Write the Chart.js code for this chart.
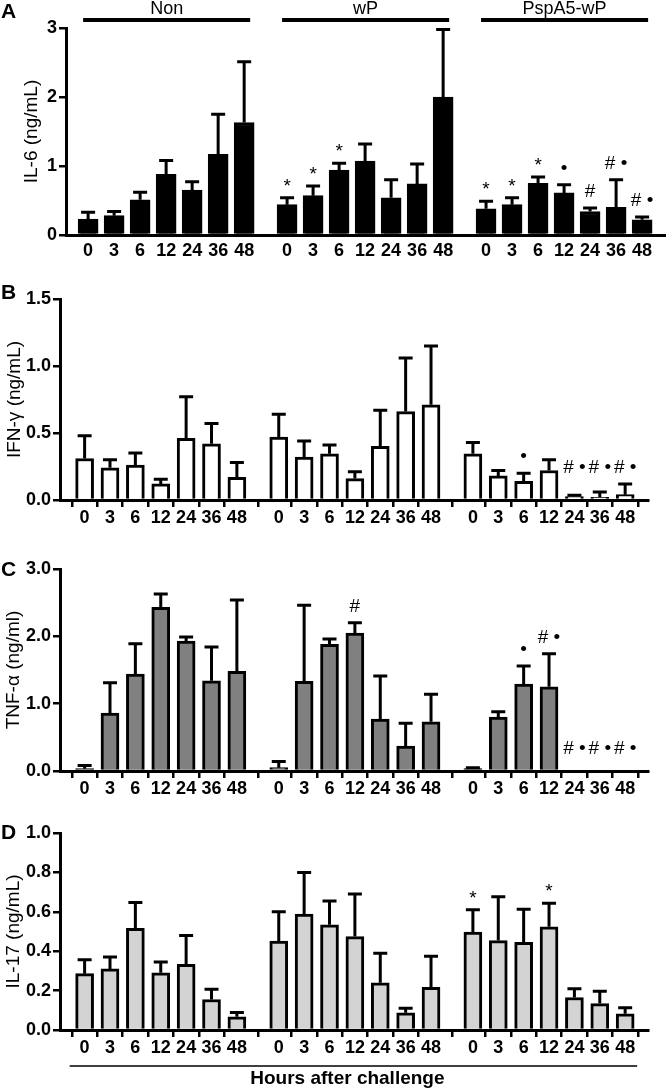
<!DOCTYPE html>
<html>
<head>
<meta charset="utf-8">
<script src="https://cdn.jsdelivr.net/npm/chart.js@4.4.1/dist/chart.umd.min.js"></script>
<style>
  body { margin: 0; background: #fff; }
  #wrap { position: relative; width: 666px; height: 1090px; }
  canvas { position: absolute; left: 0; }
</style>
</head>
<body>
<div id="wrap">
  <canvas id="panelA" width="666" height="262" style="top:0px"></canvas>
  <canvas id="panelB" width="666" height="265" style="top:262px"></canvas>
  <canvas id="panelC" width="666" height="271" style="top:527px"></canvas>
  <canvas id="panelD" width="666" height="292" style="top:798px"></canvas>
</div>
<script>
// time points (hours after challenge) and groups
const hours = ['0', '3', '6', '12', '24', '36', '48'];
const groupNames = ['Non', 'wP', 'PspA5-wP'];

// IL-6 (ng/mL), Non | wP | PspA5-wP
const il6Mean = [0.23, 0.28, 0.51, 0.88, 0.65, 1.17, 1.63,  0.44, 0.57, 0.94, 1.07, 0.54, 0.74, 2.00,  0.38, 0.44, 0.75, 0.61, 0.34, 0.40, 0.22];
const il6Err  = [0.10, 0.06, 0.11, 0.20, 0.12, 0.58, 0.88,  0.10, 0.14, 0.10, 0.25, 0.26, 0.29, 0.98,  0.11, 0.10, 0.09, 0.12, 0.05, 0.40, 0.04];
const il6Marks = ['', '', '', '', '', '', '',  '*', '*', '*', '', '', '', '',  '*', '*', '*', '•', '#', '# •', '# •'];

// IFN-gamma (ng/mL)
const ifnMean = [0.31, 0.24, 0.26, 0.12, 0.46, 0.42, 0.17,  0.47, 0.32, 0.345, 0.16, 0.40, 0.66, 0.71,  0.345, 0.18, 0.14, 0.22, 0.025, 0.02, 0.04];
const ifnErr  = [0.17, 0.06, 0.09, 0.035, 0.31, 0.15, 0.11,  0.17, 0.12, 0.065, 0.05, 0.27, 0.40, 0.44,  0.085, 0.04, 0.06, 0.08, 0.01, 0.04, 0.08];
const ifnMarks = ['', '', '', '', '', '', '',  '', '', '', '', '', '', '',  '', '', '•', '', '# •', '# •', '# •'];

// TNF-alpha (ng/ml)
const tnfMean = [0.035, 0.86, 1.44, 2.43, 1.93, 1.34, 1.48,  0.05, 1.33, 1.88, 2.05, 0.77, 0.37, 0.73,  0.035, 0.80, 1.29, 1.25, 0, 0, 0];
const tnfErr  = [0.045, 0.45, 0.45, 0.20, 0.06, 0.50, 1.06,  0.09, 1.13, 0.08, 0.15, 0.64, 0.34, 0.41,  0.015, 0.08, 0.27, 0.49, 0, 0, 0];
const tnfMarks = ['', '', '', '', '', '', '',  '', '', '', '#', '', '', '',  '', '', '•', '# •', '# •', '# •', '# •'];

// IL-17 (ng/mL)
const il17Mean = [0.286, 0.31, 0.516, 0.29, 0.333, 0.155, 0.067,  0.452, 0.588, 0.534, 0.474, 0.24, 0.087, 0.217,  0.497, 0.454, 0.445, 0.524, 0.165, 0.134, 0.082];
const il17Err  = [0.07, 0.06, 0.131, 0.055, 0.147, 0.052, 0.022,  0.148, 0.212, 0.121, 0.216, 0.15, 0.023, 0.158,  0.113, 0.223, 0.168, 0.12, 0.045, 0.063, 0.031];
const il17Marks = ['', '', '', '', '', '', '',  '', '', '', '', '', '', '',  '*', '', '', '*', '', '', ''];

// x positions: 7 bars per group with a narrower gap between groups
const GAP = 0.65;
const xPos = [];
const xLabels = [];
groupNames.forEach((g, gi) => {
  hours.forEach((h, i) => {
    xPos.push(gi * (7 + GAP) + i);
    xLabels.push(h);
  });
});

const FONT = "'Liberation Sans', Arial, sans-serif";
Chart.defaults.font.family = FONT;
Chart.defaults.color = '#000';

// error bars, significance marks, panel letters, headers
const extras = {
  id: 'extras',
  afterDatasetsDraw(chart, args, o) {
    const ctx = chart.ctx;
    const ys = chart.scales.y;
    const meta = chart.getDatasetMeta(0);
    const mean = o.mean;
    ctx.save();
    ctx.strokeStyle = '#000';
    ctx.lineWidth = 3;
    o.err.forEach((e, i) => {
      if (!e) return;
      const x = meta.data[i].x;
      const y0 = ys.getPixelForValue(mean[i]);
      const y1 = ys.getPixelForValue(mean[i] + e);
      ctx.beginPath();
      ctx.moveTo(x, y0);
      ctx.lineTo(x, y1);
      ctx.moveTo(x - 7, y1);
      ctx.lineTo(x + 7, y1);
      ctx.stroke();
    });

    ctx.fillStyle = '#000';
    ctx.font = '19px ' + FONT;
    ctx.textAlign = 'center';
    ctx.textBaseline = 'middle';
    const zero = ys.getPixelForValue(0);
    o.marks.forEach((m, i) => {
      if (!m) return;
      const x = meta.data[i].x;
      let y = ys.getPixelForValue(mean[i] + o.err[i]) - 16;
      y = Math.min(y, zero - o.floor);
      ctx.fillText(m, x, m === '*' ? y + 5 : y);
    });

    ctx.font = 'bold 21px ' + FONT;
    ctx.textAlign = 'left';
    ctx.fillText(o.letter, 1, o.letterY);

    if (o.headers) {
      groupNames.forEach((g, gi) => {
        const x0 = meta.data[gi * 7].x - 5;
        const x1 = meta.data[gi * 7 + 6].x + 6;
        ctx.lineWidth = 4;
        ctx.beginPath();
        ctx.moveTo(x0, 20);
        ctx.lineTo(x1, 20);
        ctx.stroke();
        ctx.font = '18px ' + FONT;
        ctx.textAlign = 'center';
        ctx.fillText(g, (x0 + x1) / 2, 9);
      });
    }

    if (o.footer) {
      const x0 = meta.data[0].x - 15;
      const x1 = meta.data[20].x + 12;
      ctx.lineWidth = 1.5;
      ctx.beginPath();
      ctx.moveTo(x0, 268);
      ctx.lineTo(x1, 268);
      ctx.stroke();
      ctx.font = 'bold 19px ' + FONT;
      ctx.textAlign = 'center';
      ctx.fillText('Hours after challenge', (x0 + x1) / 2 - 6, 281);
    }
    ctx.restore();
  }
};

function panel(id, p) {
  return new Chart(document.getElementById(id), {
    type: 'bar',
    data: {
      datasets: [{
        data: xPos.map((x, i) => ({ x: x, y: p.mean[i] })),
        backgroundColor: p.color,
        borderColor: '#000',
        borderWidth: 3,
        barThickness: p.barW
      }]
    },
    options: {
      responsive: false,
      animation: false,
      layout: { padding: { top: p.top, bottom: p.bottom, left: 0, right: p.right } },
      plugins: {
        legend: { display: false },
        tooltip: { enabled: false },
        extras: { mean: p.mean, err: p.err, marks: p.marks, letter: p.letter, letterY: p.letterY,
                  floor: p.floor, headers: p.headers, footer: p.footer }
      },
      scales: {
        x: {
          type: 'linear',
          min: p.xmin,
          max: p.xmax,
          offset: false,
          afterBuildTicks(s) { s.ticks = xPos.map(v => ({ value: v })); },
          afterFit(s) { s.height = 27; },
          ticks: {
            callback: (v, i) => xLabels[i],
            autoSkip: false,
            maxRotation: 0,
            padding: p.xTicks ? 0 : 5,
            font: { size: 18, weight: 'bold' }
          },
          grid: { drawOnChartArea: false, drawTicks: p.xTicks, tickLength: 7, color: '#000', lineWidth: 2.5 },
          border: { color: '#000', width: 3 }
        },
        y: {
          min: 0,
          max: p.ymax,
          afterFit(s) { s.width = p.axisX; },
          ticks: {
            stepSize: p.step,
            callback: p.fmt,
            padding: 2,
            font: { size: 18, weight: 'bold' }
          },
          grid: { drawOnChartArea: false, tickLength: 7, color: '#000', lineWidth: 2.5 },
          border: { color: '#000', width: 3 },
          title: { display: true, text: p.title, font: { size: 19 }, padding: { top: p.titlePad, bottom: 0 } }
        }
      }
    },
    plugins: [extras]
  });
}

const oneDec = v => v.toFixed(1);

panel('panelA', { mean: il6Mean, err: il6Err, marks: il6Marks, color: '#000', barW: 20,
  top: 28, bottom: 0, right: 1, axisX: 66, xmin: -0.85, xmax: 22.18,
  ymax: 3, step: 1, fmt: v => v.toFixed(0), title: 'IL-6 (ng/mL)', titlePad: 20,
  letter: 'A', letterY: 12, floor: 0, headers: true, xTicks: false });

panel('panelB', { mean: ifnMean, err: ifnErr, marks: ifnMarks, color: '#fff', barW: 18,
  top: 37, bottom: 0, right: 18, axisX: 60, xmin: -0.97, xmax: 22.2,
  ymax: 1.5, step: 0.5, fmt: oneDec, title: 'IFN-γ (ng/mL)', titlePad: 3,
  letter: 'B', letterY: 31, floor: 32, xTicks: true });

panel('panelC', { mean: tnfMean, err: tnfErr, marks: tnfMarks, color: '#808080', barW: 18,
  top: 42, bottom: 0, right: 18, axisX: 60, xmin: -0.97, xmax: 22.2,
  ymax: 3, step: 1, fmt: oneDec, title: 'TNF-α (ng/ml)', titlePad: 2,
  letter: 'C', letterY: 43, floor: 22, xTicks: true });

panel('panelD', { mean: il17Mean, err: il17Err, marks: il17Marks, color: '#d3d3d3', barW: 18,
  top: 35, bottom: 33, right: 18, axisX: 60, xmin: -0.97, xmax: 22.2,
  ymax: 1, step: 0.2, fmt: oneDec, title: 'IL-17 (ng/mL)', titlePad: 2,
  letter: 'D', letterY: 35, floor: 0, footer: true, xTicks: true });
</script>
</body>
</html>
